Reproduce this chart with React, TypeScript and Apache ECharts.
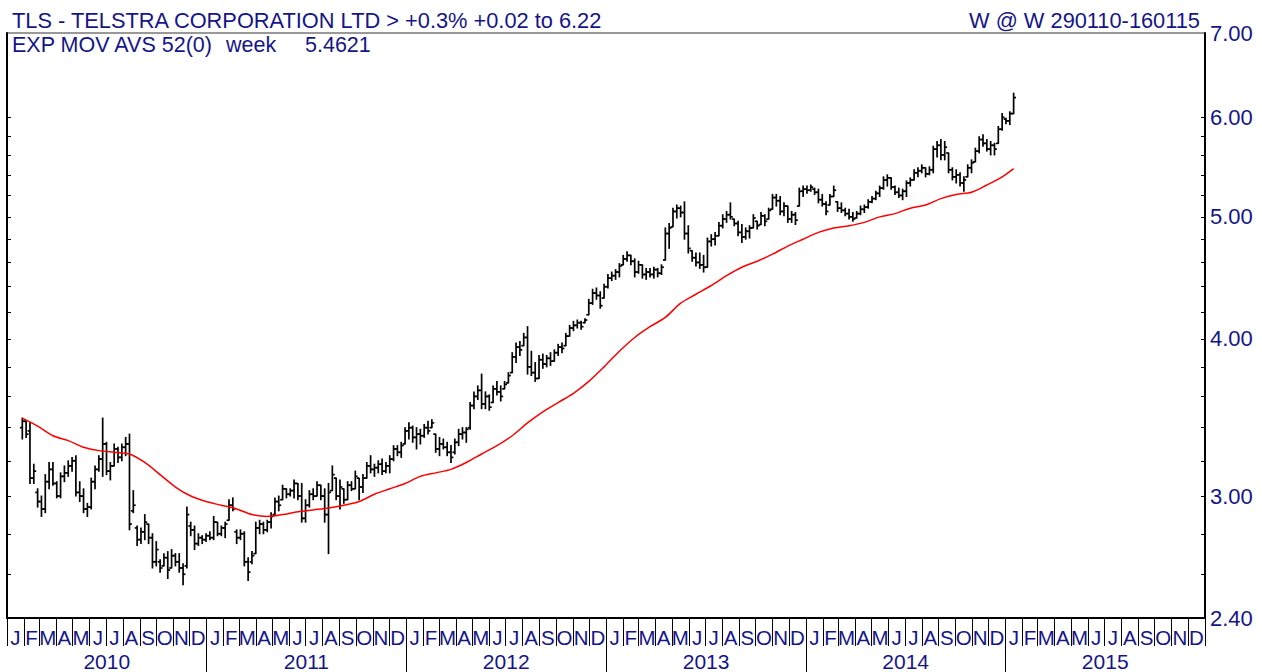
import React, { useEffect, useRef } from 'react';
import * as echarts from 'echarts';

// ---- time frame ----
const AXIS_START = Date.UTC(2010, 0, 1);
const AXIS_END = Date.UTC(2016, 0, 1);
const FIRST_WEEK = Date.UTC(2010, 0, 29);
const DAY = 86400000;

const MONTH_LETTERS = ['J', 'F', 'M', 'A', 'M', 'J', 'J', 'A', 'S', 'O', 'N', 'D'];
const YEARS = [2010, 2011, 2012, 2013, 2014, 2015];

// ---- price axis ----
const PRICE_MIN = 2.4;
const PRICE_MAX = 7.0;
const PRICE_LABELS = [2.4, 3.0, 4.0, 5.0, 6.0, 7.0];
const PRICE_TICKS = [2.6, 2.8, 3.0, 3.2, 3.4, 3.6, 3.8, 4.0, 4.2, 4.4, 4.6, 4.8, 5.0, 5.2, 5.4, 5.6, 5.8, 6.0];

// ---- weekly bars [open, high, low, close], week ending Fridays from 29 Jan 2010 ----
const bars2010 = [
  [3.40, 3.46, 3.33, 3.44], [3.44, 3.44, 3.34, 3.36], [3.38, 3.43, 3.07, 3.10], [3.10, 3.18, 3.07, 3.14],
  [3.02, 3.04, 2.94, 2.97], [2.97, 3.00, 2.89, 2.93], [2.93, 3.12, 2.91, 3.08], [3.08, 3.19, 3.04, 3.15],
  [3.15, 3.19, 3.06, 3.07], [3.07, 3.08, 2.99, 3.00], [3.00, 3.13, 2.99, 3.11], [3.11, 3.17, 3.08, 3.13],
  [3.13, 3.20, 3.11, 3.17], [3.17, 3.22, 3.14, 3.20], [3.20, 3.23, 3.00, 3.02], [3.02, 3.08, 2.97, 3.00],
  [3.00, 3.04, 2.91, 2.93], [2.93, 2.96, 2.89, 2.94], [2.94, 3.10, 2.93, 3.08], [3.08, 3.17, 3.04, 3.15],
  [3.15, 3.23, 3.14, 3.21], [3.21, 3.46, 3.11, 3.30], [3.30, 3.31, 3.12, 3.14], [3.14, 3.19, 3.09, 3.17],
  [3.17, 3.30, 3.17, 3.27], [3.27, 3.28, 3.19, 3.22], [3.22, 3.30, 3.20, 3.28], [3.28, 3.34, 3.23, 3.30],
  [3.30, 3.36, 2.82, 2.85], [2.92, 3.03, 2.91, 2.95], [2.83, 2.84, 2.74, 2.77], [2.77, 2.83, 2.75, 2.81],
  [2.81, 2.90, 2.77, 2.86], [2.85, 2.85, 2.75, 2.78], [2.78, 2.80, 2.63, 2.66], [2.66, 2.76, 2.64, 2.72],
  [2.66, 2.67, 2.61, 2.63], [2.64, 2.70, 2.64, 2.68], [2.68, 2.71, 2.58, 2.62], [2.63, 2.72, 2.63, 2.69],
  [2.69, 2.70, 2.64, 2.66], [2.66, 2.70, 2.61, 2.63], [2.63, 2.65, 2.55, 2.60], [2.64, 2.94, 2.63, 2.90],
  [2.84, 2.86, 2.79, 2.82], [2.82, 2.84, 2.72, 2.75], [2.75, 2.80, 2.74, 2.78], [2.78, 2.79, 2.75, 2.77],
  [2.77, 2.80, 2.76, 2.79],
];
const bars2011 = [
  [2.79, 2.81, 2.77, 2.78], [2.78, 2.89, 2.77, 2.86], [2.86, 2.86, 2.79, 2.80], [2.80, 2.84, 2.79, 2.83],
  [2.83, 2.86, 2.78, 2.85], [2.87, 2.98, 2.87, 2.95], [2.95, 2.99, 2.92, 2.93], [2.81, 2.82, 2.75, 2.78],
  [2.78, 2.82, 2.77, 2.80], [2.80, 2.81, 2.64, 2.66], [2.66, 2.68, 2.57, 2.61], [2.66, 2.71, 2.65, 2.69],
  [2.70, 2.86, 2.70, 2.83], [2.83, 2.87, 2.80, 2.85], [2.85, 2.86, 2.80, 2.82], [2.82, 2.87, 2.81, 2.86],
  [2.86, 2.91, 2.83, 2.89], [2.90, 2.99, 2.90, 2.97], [2.97, 3.00, 2.92, 2.95], [2.98, 3.06, 2.98, 3.04],
  [3.04, 3.04, 2.99, 3.01], [3.01, 3.04, 3.00, 3.03], [3.03, 3.09, 2.99, 3.07], [3.07, 3.07, 2.98, 3.00],
  [3.00, 3.07, 2.86, 2.88], [2.88, 2.98, 2.86, 2.95], [2.95, 3.03, 2.94, 3.01], [3.01, 3.04, 2.98, 3.00],
  [3.00, 3.08, 3.00, 3.06], [3.06, 3.06, 2.98, 3.00], [3.00, 3.04, 2.86, 2.90], [2.90, 3.07, 2.70, 3.02],
  [3.03, 3.17, 3.03, 3.12], [3.10, 3.10, 2.98, 3.00], [3.00, 3.09, 2.93, 3.05], [3.04, 3.04, 2.96, 2.98],
  [2.98, 3.08, 2.98, 3.06], [3.06, 3.08, 3.03, 3.04], [3.04, 3.14, 3.04, 3.11], [3.10, 3.10, 2.98, 3.05],
  [3.05, 3.12, 3.02, 3.10], [3.10, 3.19, 3.10, 3.17], [3.17, 3.23, 3.13, 3.15], [3.15, 3.18, 3.11, 3.16],
  [3.16, 3.20, 3.13, 3.18], [3.18, 3.21, 3.12, 3.14], [3.14, 3.19, 3.13, 3.17], [3.17, 3.23, 3.13, 3.21],
  [3.21, 3.29, 3.20, 3.27], [3.27, 3.29, 3.23, 3.25], [3.25, 3.31, 3.22, 3.29], [3.30, 3.40, 3.30, 3.38],
];
const bars2012 = [
  [3.38, 3.43, 3.33, 3.40], [3.40, 3.41, 3.31, 3.34], [3.34, 3.40, 3.27, 3.36], [3.36, 3.39, 3.30, 3.35],
  [3.35, 3.42, 3.34, 3.40], [3.40, 3.44, 3.36, 3.38], [3.40, 3.45, 3.40, 3.43], [3.36, 3.36, 3.25, 3.27],
  [3.27, 3.34, 3.23, 3.30], [3.30, 3.33, 3.27, 3.28], [3.28, 3.31, 3.23, 3.25], [3.25, 3.29, 3.19, 3.22],
  [3.25, 3.33, 3.24, 3.31], [3.31, 3.39, 3.29, 3.36], [3.36, 3.40, 3.33, 3.37], [3.37, 3.40, 3.31, 3.39],
  [3.40, 3.56, 3.39, 3.54], [3.54, 3.63, 3.52, 3.60], [3.60, 3.67, 3.58, 3.64], [3.64, 3.75, 3.52, 3.55],
  [3.55, 3.63, 3.52, 3.60], [3.60, 3.61, 3.51, 3.53], [3.56, 3.67, 3.56, 3.65], [3.65, 3.70, 3.61, 3.63],
  [3.63, 3.67, 3.57, 3.60], [3.65, 3.70, 3.65, 3.68], [3.69, 3.76, 3.69, 3.74], [3.76, 3.90, 3.76, 3.87],
  [3.87, 3.97, 3.83, 3.94], [3.94, 3.98, 3.88, 3.92], [3.95, 4.04, 3.95, 4.01], [4.01, 4.09, 3.75, 3.80],
  [3.80, 3.91, 3.74, 3.76], [3.76, 3.83, 3.70, 3.72], [3.72, 3.88, 3.72, 3.85], [3.85, 3.89, 3.79, 3.82],
  [3.82, 3.88, 3.80, 3.86], [3.86, 3.90, 3.81, 3.84], [3.84, 3.92, 3.84, 3.90], [3.90, 3.96, 3.88, 3.94],
  [3.94, 3.97, 3.90, 3.93], [3.95, 4.04, 3.95, 4.02], [4.02, 4.10, 4.02, 4.08], [4.08, 4.13, 4.06, 4.10],
  [4.10, 4.14, 4.08, 4.12], [4.12, 4.13, 4.07, 4.09], [4.12, 4.15, 4.12, 4.14], [4.18, 4.30, 4.18, 4.27],
  [4.27, 4.38, 4.26, 4.35], [4.35, 4.39, 4.30, 4.33], [4.33, 4.36, 4.23, 4.25], [4.31, 4.42, 4.31, 4.40],
];
const bars2013 = [
  [4.40, 4.50, 4.39, 4.47], [4.47, 4.52, 4.45, 4.49], [4.49, 4.54, 4.46, 4.52], [4.52, 4.59, 4.48, 4.57],
  [4.58, 4.66, 4.58, 4.63], [4.63, 4.69, 4.61, 4.66], [4.66, 4.66, 4.58, 4.61], [4.61, 4.63, 4.48, 4.52],
  [4.52, 4.61, 4.51, 4.58], [4.58, 4.58, 4.47, 4.50], [4.50, 4.55, 4.46, 4.52], [4.52, 4.55, 4.48, 4.50],
  [4.50, 4.56, 4.47, 4.54], [4.54, 4.55, 4.48, 4.51], [4.51, 4.58, 4.50, 4.56], [4.62, 4.90, 4.62, 4.85],
  [4.85, 4.94, 4.72, 4.90], [4.91, 5.08, 4.91, 5.05], [5.05, 5.11, 4.99, 5.08], [5.08, 5.10, 5.00, 5.04],
  [5.04, 5.14, 4.80, 4.85], [4.85, 4.92, 4.68, 4.72], [4.70, 4.70, 4.61, 4.64], [4.64, 4.68, 4.57, 4.60],
  [4.60, 4.68, 4.55, 4.58], [4.58, 4.66, 4.52, 4.56], [4.56, 4.81, 4.56, 4.78], [4.78, 4.84, 4.74, 4.80],
  [4.80, 4.86, 4.75, 4.83], [4.83, 4.95, 4.83, 4.92], [4.92, 5.02, 4.90, 4.98], [4.98, 5.05, 4.95, 5.02],
  [5.02, 5.13, 4.98, 5.00], [4.98, 4.98, 4.92, 4.94], [4.94, 4.96, 4.83, 4.86], [4.86, 4.93, 4.77, 4.82],
  [4.82, 4.90, 4.80, 4.87], [4.87, 4.92, 4.81, 4.90], [4.90, 5.02, 4.90, 4.99], [4.96, 4.96, 4.89, 4.92],
  [4.93, 5.04, 4.93, 5.01], [5.01, 5.02, 4.92, 4.96], [4.98, 5.08, 4.98, 5.06], [5.07, 5.21, 5.07, 5.18],
  [5.18, 5.21, 5.10, 5.15], [5.15, 5.19, 5.02, 5.05], [5.05, 5.13, 5.01, 5.10], [5.10, 5.10, 4.95, 4.98],
  [4.98, 5.05, 4.95, 5.02], [5.02, 5.04, 4.93, 4.97], [5.10, 5.27, 5.10, 5.24], [5.24, 5.29, 5.19, 5.26],
];
const bars2014 = [
  [5.26, 5.29, 5.22, 5.25], [5.25, 5.30, 5.24, 5.28], [5.26, 5.27, 5.21, 5.23], [5.23, 5.26, 5.13, 5.16],
  [5.16, 5.21, 5.10, 5.12], [5.12, 5.14, 5.02, 5.05], [5.11, 5.21, 5.11, 5.19], [5.19, 5.29, 5.19, 5.25],
  [5.14, 5.14, 5.05, 5.08], [5.08, 5.13, 5.04, 5.06], [5.06, 5.08, 5.01, 5.03], [5.03, 5.07, 4.98, 5.00],
  [5.00, 5.04, 4.96, 4.98], [4.99, 5.05, 4.99, 5.03], [5.03, 5.10, 5.02, 5.07], [5.07, 5.11, 5.04, 5.09],
  [5.09, 5.16, 5.08, 5.14], [5.14, 5.19, 5.13, 5.17], [5.17, 5.24, 5.16, 5.22], [5.22, 5.29, 5.19, 5.27],
  [5.27, 5.38, 5.26, 5.35], [5.35, 5.40, 5.29, 5.37], [5.37, 5.37, 5.26, 5.28], [5.28, 5.29, 5.21, 5.23],
  [5.23, 5.27, 5.18, 5.20], [5.20, 5.26, 5.16, 5.24], [5.24, 5.34, 5.19, 5.32], [5.32, 5.37, 5.29, 5.35],
  [5.35, 5.45, 5.35, 5.42], [5.42, 5.47, 5.38, 5.44], [5.44, 5.50, 5.42, 5.47], [5.47, 5.47, 5.38, 5.41],
  [5.41, 5.48, 5.40, 5.45], [5.45, 5.69, 5.42, 5.66], [5.66, 5.74, 5.58, 5.70], [5.70, 5.76, 5.55, 5.60],
  [5.60, 5.74, 5.55, 5.68], [5.62, 5.62, 5.42, 5.45], [5.45, 5.47, 5.35, 5.38], [5.38, 5.45, 5.32, 5.40],
  [5.40, 5.42, 5.29, 5.32], [5.32, 5.38, 5.24, 5.35], [5.38, 5.50, 5.38, 5.47], [5.47, 5.55, 5.42, 5.52],
  [5.53, 5.67, 5.53, 5.64], [5.64, 5.79, 5.62, 5.76], [5.76, 5.81, 5.69, 5.72], [5.72, 5.76, 5.64, 5.66],
  [5.66, 5.74, 5.60, 5.70], [5.70, 5.72, 5.60, 5.66], [5.72, 5.90, 5.72, 5.87], [5.87, 6.04, 5.86, 6.00],
];
const bars2015 = [
  [5.98, 5.99, 5.93, 5.96], [5.96, 6.06, 5.92, 6.04], [6.04, 6.27, 6.04, 6.22],
];

// ---- 52-week exponential moving average, read at every 4th week ----
const emaWeek = [
  0, 4, 8, 12, 16, 20, 24, 28, 32, 36, 40, 44, 48, 52, 56, 60, 64, 68, 72, 76, 80, 84, 88,
  92, 96, 100, 104, 108, 112, 116, 120, 124, 128, 132, 136, 140, 144, 148, 152, 156, 160,
  164, 168, 172, 176, 180, 184, 188, 192, 196, 200, 204, 208, 212, 216, 220, 224, 228, 232,
  236, 240, 244, 248, 252, 256, 259,
];
const emaValue = [
  3.46, 3.41, 3.35, 3.32, 3.28, 3.26, 3.25, 3.24, 3.19, 3.12, 3.05, 3.00, 2.97, 2.95, 2.93, 2.90,
  2.89, 2.90, 2.915, 2.925, 2.935, 2.95, 2.97,
  3.01, 3.04, 3.07, 3.11, 3.13, 3.15, 3.19, 3.24, 3.29, 3.35, 3.43, 3.50, 3.56, 3.62, 3.70, 3.80,
  3.91, 4.01, 4.09, 4.16, 4.27, 4.34, 4.41, 4.49, 4.56, 4.61, 4.67, 4.74, 4.80, 4.86, 4.90, 4.92,
  4.95, 5.00, 5.03, 5.08, 5.11, 5.17, 5.21, 5.23, 5.30, 5.38, 5.4621,
];

const TITLE_LEFT = 'TLS - TELSTRA CORPORATION LTD > +0.3% +0.02 to 6.22';
const TITLE_RIGHT = 'W @ W 290110-160115';
const IND_NAME = 'EXP MOV AVS 52(0)';
const IND_PERIOD = 'week';
const IND_VALUE = '5.4621';

const NAVY = '#15158a';
const FONT = '"Liberation Sans", Arial, Helvetica, sans-serif';

const lg = (v: number) => Math.log10(v);
const dayOf = (t: number) => (t - AXIS_START) / DAY;
const weekDay = (i: number) => dayOf(FIRST_WEEK + i * 7 * DAY);

export default function App() {
  const ref = useRef<HTMLDivElement>(null);

  useEffect(() => {
    if (!ref.current) return;
    const chart = echarts.init(ref.current, null, { renderer: 'svg' });

    const allBars = [...bars2010, ...bars2011, ...bars2012, ...bars2013, ...bars2014, ...bars2015];
    const barData = allBars.map((b, i) => [weekDay(i), lg(b[0]), lg(b[1]), lg(b[2]), lg(b[3])]);
    const emaData = emaWeek.map((w, k) => [weekDay(w), lg(emaValue[k])]);

    const monthStarts: number[] = [];
    const monthMids: number[] = [];
    YEARS.forEach((y) => {
      for (let m = 0; m < 12; m++) {
        const a = dayOf(Date.UTC(y, m, 1));
        const b = dayOf(Date.UTC(y, m + 1, 1));
        monthStarts.push(a);
        monthMids.push((a + b) / 2);
      }
    });
    monthStarts.push(dayOf(AXIS_END));
    const yearStarts = YEARS.slice(1).map((y) => dayOf(Date.UTC(y, 0, 1)));
    const yearMids = YEARS.map((y) => (dayOf(Date.UTC(y, 0, 1)) + dayOf(Date.UTC(y + 1, 0, 1))) / 2);
    const xMax = dayOf(AXIS_END);

    const renderItem = (_params: any, api: any) => {
      const x = api.value(0);
      const op = api.coord([x, api.value(1)]);
      const hi = api.coord([x, api.value(2)]);
      const lo = api.coord([x, api.value(3)]);
      const cl = api.coord([x, api.value(4)]);
      const style = { stroke: '#000', lineWidth: 1.7 };
      return {
        type: 'group',
        children: [
          { type: 'line', shape: { x1: hi[0], y1: hi[1] - 0.5, x2: lo[0], y2: lo[1] + 0.5 }, style },
          { type: 'line', shape: { x1: op[0] - 2.4, y1: op[1], x2: op[0], y2: op[1] }, style },
          { type: 'line', shape: { x1: cl[0], y1: cl[1], x2: cl[0] + 2.4, y2: cl[1] }, style },
        ],
      };
    };

    const option: any = {
      animation: false,
      backgroundColor: '#ffffff',
      grid: {
        left: 7, right: 57, top: 33, bottom: 54,
        show: true, borderColor: '#333', borderWidth: 1,
        containLabel: false, outerBoundsMode: 'none',
      },
      xAxis: [
        {
          type: 'value', min: 0, max: xMax, position: 'bottom',
          axisLine: { show: true, onZero: false, lineStyle: { color: '#000', width: 2 } },
          axisTick: { show: true, inside: false, length: 28, customValues: monthStarts, lineStyle: { color: '#000', width: 1 } },
          axisLabel: {
            show: true, customValues: monthMids, margin: 19, verticalAlign: 'middle',
            color: NAVY, fontSize: 20.5, fontFamily: FONT,
            formatter: (v: number) => MONTH_LETTERS[new Date(AXIS_START + v * DAY).getUTCMonth()],
          },
          splitLine: { show: false },
        },
        {
          type: 'value', min: 0, max: xMax, position: 'bottom',
          axisLine: { show: false, onZero: false },
          axisTick: { show: true, inside: false, length: 56, customValues: yearStarts, lineStyle: { color: '#000', width: 1 } },
          axisLabel: {
            show: true, customValues: yearMids, margin: 43, verticalAlign: 'middle',
            color: NAVY, fontSize: 21, fontFamily: FONT,
            formatter: (v: number) => String(new Date(AXIS_START + v * DAY).getUTCFullYear()),
          },
          splitLine: { show: false },
        },
      ],
      yAxis: [
        {
          type: 'value', position: 'right', min: lg(PRICE_MIN), max: lg(PRICE_MAX),
          axisLine: { show: true, onZero: false, lineStyle: { color: '#000', width: 2 } },
          axisTick: { show: true, inside: true, length: 4, customValues: PRICE_TICKS.map(lg), lineStyle: { color: '#000', width: 1 } },
          axisLabel: {
            show: true, customValues: PRICE_LABELS.map(lg), margin: 5, verticalAlign: 'middle',
            color: NAVY, fontSize: 22, fontFamily: FONT,
            formatter: (v: number) => Math.pow(10, v).toFixed(2),
          },
          splitLine: { show: false },
        },
        {
          type: 'value', position: 'left', min: lg(PRICE_MIN), max: lg(PRICE_MAX),
          axisLine: { show: true, onZero: false, lineStyle: { color: '#000', width: 2 } },
          axisTick: { show: true, inside: true, length: 4, customValues: PRICE_TICKS.map(lg), lineStyle: { color: '#000', width: 1 } },
          axisLabel: { show: false },
          splitLine: { show: false },
        },
      ],
      series: [
        {
          type: 'custom', name: 'TLS', xAxisIndex: 0, yAxisIndex: 0,
          data: barData, encode: { x: 0, y: [1, 2, 3, 4] },
          renderItem, silent: true, clip: true,
        },
        {
          type: 'line', name: 'EMA 52', xAxisIndex: 0, yAxisIndex: 0,
          data: emaData, showSymbol: false, smooth: 0.3, silent: true,
          lineStyle: { color: '#ff0000', width: 1.5 },
        },
      ],
      graphic: [
        { type: 'text', x: 12, y: 20, style: { text: TITLE_LEFT, fill: NAVY, fontSize: 21.8, fontFamily: FONT, align: 'left', verticalAlign: 'middle' } },
        { type: 'text', x: 1200, y: 20, style: { text: TITLE_RIGHT, fill: NAVY, fontSize: 21.8, fontFamily: FONT, align: 'right', verticalAlign: 'middle' } },
        { type: 'text', x: 12, y: 45, style: { text: IND_NAME, fill: NAVY, fontSize: 21.5, fontFamily: FONT, align: 'left', verticalAlign: 'middle' } },
        { type: 'text', x: 226, y: 45, style: { text: IND_PERIOD, fill: NAVY, fontSize: 21.5, fontFamily: FONT, align: 'left', verticalAlign: 'middle' } },
        { type: 'text', x: 305, y: 45, style: { text: IND_VALUE, fill: NAVY, fontSize: 21.5, fontFamily: FONT, align: 'left', verticalAlign: 'middle' } },
      ],
    };

    chart.setOption(option);
    return () => chart.dispose();
  }, []);

  return (
    <div
      ref={ref}
      style={{ position: 'absolute', left: 0, top: 0, width: 1262, height: 672, background: '#fff' }}
    />
  );
}
